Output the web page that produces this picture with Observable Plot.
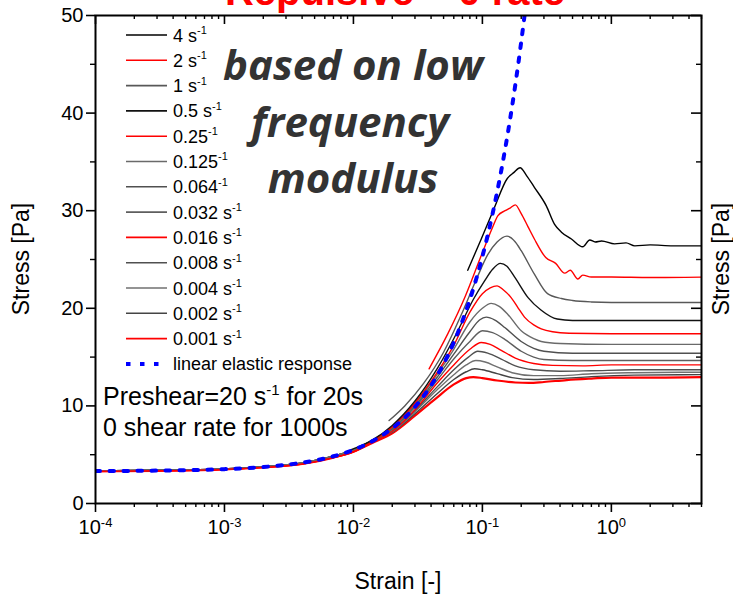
<!DOCTYPE html>
<html><head><meta charset="utf-8">
<script src="https://cdn.jsdelivr.net/npm/d3@7"></script>
<script src="https://cdn.jsdelivr.net/npm/@observablehq/plot@0.6"></script>
<style>
html,body{margin:0;padding:0;background:#fff;}
#chart{position:relative;width:733px;height:596px;overflow:hidden;}
</style></head><body><div id="chart"></div>
<script>
// ---------- data ----------
const rates = ["4","2","1","0.5","0.25","0.125","0.064","0.032","0.016","0.008","0.004","0.002","0.001"];
const legendMain = ["4 s","2 s","1 s","0.5 s","0.25","0.125","0.064","0.032 s","0.016 s","0.008 s","0.004 s","0.002 s","0.001 s"];
const seriesColors = ["#000000","#ff0000","#585858","#111111","#ff0000","#6a6a6a","#505050","#5e5e5e","#ff0000","#505050","#707070","#444444","#ff0000"];

const strain_4 = [0.077,0.098,0.123,0.156,0.175,0.196,0.22,0.253,0.313,0.363,0.41,0.49,0.6,0.68,0.75,0.84,1.06,1.3,1.52,2,3,5];
const stress_4 = [23.9,27.1,30.2,33.3,33.9,34.4,33.6,32.4,30.5,28.6,27.8,27.1,26.3,27.0,26.8,26.9,26.6,26.7,26.4,26.5,26.4,26.4];
const strain_2 = [0.0386,0.054,0.073,0.098,0.12,0.132,0.15,0.165,0.18,0.2,0.225,0.253,0.31,0.37,0.435,0.48,0.55,0.6,0.7,1,2,5];
const stress_2 = [13.8,17.4,21.1,25.4,28.3,29.5,30.0,30.3,30.6,29.7,28.4,27.1,25.2,24.6,23.6,23.9,23.0,23.4,23.2,23.2,23.15,23.2];
const strain_1 = [0.0189,0.025,0.035,0.05,0.07,0.09,0.11,0.13,0.155,0.18,0.2,0.253,0.32,0.41,0.5,0.7,1,2,5];
const stress_1 = [8.5,10.0,12.3,15.5,19.6,23.0,25.5,26.8,27.4,26.8,25.9,23.5,21.5,21.0,20.8,20.65,20.6,20.6,20.6];
const strain_05 = [0.0095,0.014,0.02,0.03,0.045,0.064,0.085,0.104,0.12,0.138,0.155,0.178,0.226,0.286,0.38,0.5,1,5];
const stress_05 = [5.5,6.5,8.0,10.5,13.9,17.6,20.9,22.8,24.0,24.6,24.3,23.2,21.1,19.8,18.9,18.75,18.75,18.75];
const strain_025 = [1e-4,3e-4,1e-3,2e-3,4e-3,7e-3,0.01,0.014,0.02,0.03,0.045,0.06,0.08,0.1,0.115,0.13,0.145,0.167,0.19,0.212,0.25,0.286,0.35,0.47,1,5];
const stress_025 = [3.3,3.35,3.5,3.7,4.05,4.7,5.3,6.4,7.85,10.3,13.5,16.2,19.6,21.5,22.1,22.3,21.9,21.1,20.0,19.1,18.3,17.9,17.6,17.45,17.4,17.4];
const strain_0125 = [1e-4,3e-4,1e-3,2e-3,4e-3,7e-3,0.01,0.014,0.02,0.03,0.045,0.06,0.08,0.1,0.117,0.135,0.157,0.2,0.25,0.286,0.4,1,5];
const stress_0125 = [3.35,3.4,3.55,3.75,4.15,4.85,5.5,6.5,7.8,10.15,13.3,15.8,18.6,20.0,20.5,20.2,19.4,17.7,16.9,16.6,16.4,16.3,16.3];
const strain_0064 = [1e-4,3e-4,1e-3,2e-3,4e-3,7e-3,0.01,0.014,0.02,0.03,0.045,0.06,0.08,0.095,0.107,0.125,0.15,0.2,0.25,0.3,0.5,1,5];
const stress_0064 = [3.35,3.4,3.55,3.75,4.15,4.85,5.5,6.5,7.7,10.0,13.0,15.3,17.6,18.8,19.1,18.8,18.0,16.6,15.9,15.6,15.4,15.4,15.4];
const strain_0032 = [1e-4,3e-4,1e-3,2e-3,4e-3,7e-3,0.01,0.014,0.02,0.03,0.045,0.06,0.08,0.1,0.12,0.15,0.2,0.25,0.3,0.5,1,5];
const stress_0032 = [3.35,3.4,3.55,3.75,4.15,4.85,5.5,6.45,7.6,9.85,12.7,14.8,16.6,17.7,17.5,16.8,15.6,15.0,14.75,14.65,14.65,14.65];
const strain_0016 = [1e-4,3e-4,1e-3,2e-3,4e-3,7e-3,0.01,0.014,0.02,0.03,0.045,0.06,0.08,0.098,0.115,0.14,0.18,0.25,0.35,0.6,1,5];
const stress_0016 = [3.3,3.35,3.5,3.7,4.05,4.7,5.3,6.25,7.4,9.6,12.4,14.2,15.8,16.5,16.3,15.7,14.9,14.35,14.15,14.1,14.2,14.2];
const strain_0008 = [1e-4,3e-4,1e-3,2e-3,4e-3,7e-3,0.01,0.014,0.02,0.03,0.045,0.06,0.078,0.092,0.11,0.14,0.18,0.25,0.4,0.7,1.5,5];
const stress_0008 = [3.35,3.4,3.55,3.75,4.15,4.85,5.5,6.4,7.45,9.55,12.0,13.7,15.0,15.6,15.4,14.8,14.1,13.7,13.55,13.6,13.7,13.7];
const strain_0004 = [1e-4,3e-4,1e-3,2e-3,4e-3,7e-3,0.01,0.014,0.02,0.03,0.045,0.06,0.075,0.089,0.105,0.13,0.17,0.25,0.4,0.7,1.5,5];
const stress_0004 = [3.35,3.4,3.55,3.75,4.15,4.85,5.5,6.4,7.35,9.4,11.7,13.2,14.2,14.65,14.5,14.0,13.4,13.1,13.1,13.3,13.4,13.45];
const strain_0002 = [1e-4,3e-4,1e-3,2e-3,4e-3,7e-3,0.01,0.014,0.02,0.03,0.045,0.06,0.075,0.087,0.1,0.13,0.17,0.25,0.4,0.7,1.5,5];
const stress_0002 = [3.35,3.4,3.55,3.75,4.15,4.85,5.5,6.4,7.3,9.2,11.3,12.7,13.5,13.8,13.7,13.3,12.9,12.7,12.8,13.0,13.15,13.2];
const strain_0001 = [1e-4,3e-4,1e-3,2e-3,4e-3,7e-3,0.01,0.014,0.02,0.03,0.043,0.06,0.075,0.085,0.1,0.13,0.18,0.23,0.3,0.45,0.7,1,2,5];
const stress_0001 = [3.3,3.35,3.5,3.7,4.05,4.7,5.3,6.2,7.2,9.0,10.7,12.2,12.85,12.95,12.85,12.6,12.4,12.35,12.45,12.65,12.8,12.9,12.9,12.95];

const elasticStrain = [1e-4,3e-4,1e-3,2e-3,3e-3,5e-3,7e-3,0.01,0.015,0.02,0.03,0.04,0.05,0.06,0.07,0.08,0.09,0.1,0.12,0.14,0.16,0.18,0.2,0.22];
const elasticStress = [3.32,3.37,3.52,3.74,3.96,4.4,4.84,5.5,6.6,7.7,9.9,12.1,14.3,16.5,18.7,20.9,23.1,25.3,29.7,34.1,38.5,42.9,47.3,51.7];

const xMajorTicks = [1e-4,1e-3,1e-2,1e-1,1];
const xMinorTicks = [2e-4,3e-4,4e-4,5e-4,6e-4,7e-4,8e-4,9e-4,2e-3,3e-3,4e-3,5e-3,6e-3,7e-3,8e-3,9e-3,0.02,0.03,0.04,0.05,0.06,0.07,0.08,0.09,0.2,0.3,0.4,0.5,0.6,0.7,0.8,0.9,2,3,4,5];
const yMajorTicks = [0,10,20,30,40,50];
const yMinorTicks = [5,15,25,35,45];

const strainArrays = [strain_4,strain_2,strain_1,strain_05,strain_025,strain_0125,strain_0064,strain_0032,strain_0016,strain_0008,strain_0004,strain_0002,strain_0001];
const stressArrays = [stress_4,stress_2,stress_1,stress_05,stress_025,stress_0125,stress_0064,stress_0032,stress_0016,stress_0008,stress_0004,stress_0002,stress_0001];

const series = rates.map((r,i)=>({rate:r, color:seriesColors[i],
  rows: strainArrays[i].map((x,j)=>({strain:x, stress:stressArrays[i][j]}))}));
const elasticRows = elasticStrain.map((x,j)=>({strain:x, stress:elasticStress[j]}));

// ---------- chart ----------
const FONT = "'Liberation Sans', Arial, Helvetica, sans-serif";
const W = 733, H = 596, mL = 95, mR = 32, mT = 15, mB = 93;
const fw = W - mL - mR, fh = H - mT - mB;

const lineMarks = series.slice().reverse().map(s =>
  Plot.line(s.rows, {x:"strain", y:"stress", stroke:s.color,
    strokeWidth: s.rate === "0.001" ? 2.2 : 1.4, curve:"monotone-x", clip:true}));

const svg = Plot.plot({
  width: W, height: H,
  marginLeft: mL, marginRight: mR, marginTop: mT, marginBottom: mB,
  style: {fontFamily: FONT, background: "white", color: "black", overflow: "visible"},
  x: {type: "log", domain: [1e-4, 5], axis: null},
  y: {domain: [0, 50], axis: null},
  marks: [
    ...lineMarks,
    Plot.line(elasticRows, {x:"strain", y:"stress", stroke:"#0000ff", strokeWidth:4,
      strokeDasharray:"4.5 9.5", curve:"monotone-x", clip:true}),
    Plot.frame({stroke:"black", strokeWidth:2}),
    Plot.axisX(xMajorTicks, {anchor:"bottom", tickSize:9, tickPadding:7, strokeWidth:1.6,
      fontSize:20, label:null, tickFormat: d => "10^" + Math.round(Math.log10(d))}),
    Plot.axisX(xMinorTicks, {anchor:"bottom", tickSize:4, strokeWidth:1.4, label:null, tickFormat: () => ""}),
    Plot.axisY(yMajorTicks, {anchor:"left", tickSize:9, tickPadding:3, strokeWidth:1.6,
      fontSize:20, label:null, tickFormat: d => String(d)}),
    Plot.axisY(yMinorTicks, {anchor:"left", tickSize:5, strokeWidth:1.4, label:null, tickFormat: () => ""}),
    Plot.tickX(xMajorTicks, {x: d => d, insetBottom: fh - 9, stroke:"black", strokeWidth:1.6}),
    Plot.tickX(xMinorTicks, {x: d => d, insetBottom: fh - 4, stroke:"black", strokeWidth:1.4}),
    Plot.tickY(yMajorTicks, {y: d => d, insetLeft: fw - 10, stroke:"black", strokeWidth:1.6}),
    Plot.tickY(yMinorTicks, {y: d => d, insetLeft: fw - 5, stroke:"black", strokeWidth:1.4})
  ]
});
document.getElementById("chart").append(svg);

const g = d3.select(svg);
// superscript exponents on x tick labels
g.selectAll("text").each(function(){
  const t = this.textContent;
  if (t.startsWith("10^")) {
    const e = t.slice(3);
    const sel = d3.select(this);
    this.textContent = "";
    sel.append("tspan").text("10");
    sel.append("tspan").attr("dy", "-0.5em").attr("font-size", "13px").text(e);
  }
});

function supText(parent, x, y, main, sup, size, supSize) {
  const t = parent.append("text").attr("x", x).attr("y", y).attr("font-size", size)
    .attr("text-anchor", "start");
  t.append("tspan").text(main);
  if (sup) t.append("tspan").attr("dy", -size*0.42).attr("font-size", supSize).text(sup);
  return t;
}

const ov = g.append("g").attr("font-family", FONT).attr("fill", "black").attr("text-anchor", "start");

// cut-off title at top
ov.append("text").attr("x", 395).attr("y", 5).attr("text-anchor", "middle")
  .attr("font-size", 40).attr("font-weight", "bold").attr("fill", "#ff0000")
  .text("Repulsive \u2013 0 rate");

// axis titles
ov.append("text").attr("transform", "translate(29,259) rotate(-90)").attr("text-anchor", "middle")
  .attr("font-size", 23).text("Stress [Pa]");
ov.append("text").attr("transform", "translate(729,259) rotate(-90)").attr("text-anchor", "middle")
  .attr("font-size", 23).text("Stress [Pa]");
ov.append("text").attr("x", 398).attr("y", 589).attr("text-anchor", "middle")
  .attr("font-size", 23).text("Strain [-]");

// legend
const lg = ov.append("g").attr("text-anchor", "start");
const row0 = 35, rowStep = 25.3;
rates.forEach((r, i) => {
  const y = row0 + i*rowStep;
  lg.append("line").attr("x1", 126).attr("x2", 167).attr("y1", y).attr("y2", y)
    .attr("stroke", seriesColors[i]).attr("stroke-width", 1.6);
  supText(lg, 173, y + 6.5, legendMain[i], "-1", 18, 11);
});
{
  const y = row0 + 13*rowStep;
  lg.append("line").attr("x1", 126).attr("x2", 167).attr("y1", y).attr("y2", y)
    .attr("stroke", "#0000ff").attr("stroke-width", 4).attr("stroke-dasharray", "4.5 9.5");
  lg.append("text").attr("x", 173).attr("y", y + 6).attr("font-size", 18)
    .attr("text-anchor", "start").text("linear elastic response");
}

// big annotation
const an = ov.append("g").attr("font-family", "'Open Sans', Lato, sans-serif")
  .attr("font-weight", "bold").attr("font-style", "italic").attr("fill", "#333333")
  .attr("text-anchor", "middle").attr("font-size", 42);
an.append("text").attr("x", 353).attr("y", 80).text("based on low");
an.append("text").attr("x", 350).attr("y", 137).text("frequency");
an.append("text").attr("x", 353).attr("y", 193).text("modulus");

// preshear note
supText(ov, 103, 405, "Preshear=20 s", "-1", 25, 15).append("tspan").attr("dy", 25*0.42).text(" for 20s");
ov.append("text").attr("x", 103).attr("y", 436).attr("font-size", 25)
  .attr("text-anchor", "start").text("0 shear rate for 1000s");
</script>
</body></html>
